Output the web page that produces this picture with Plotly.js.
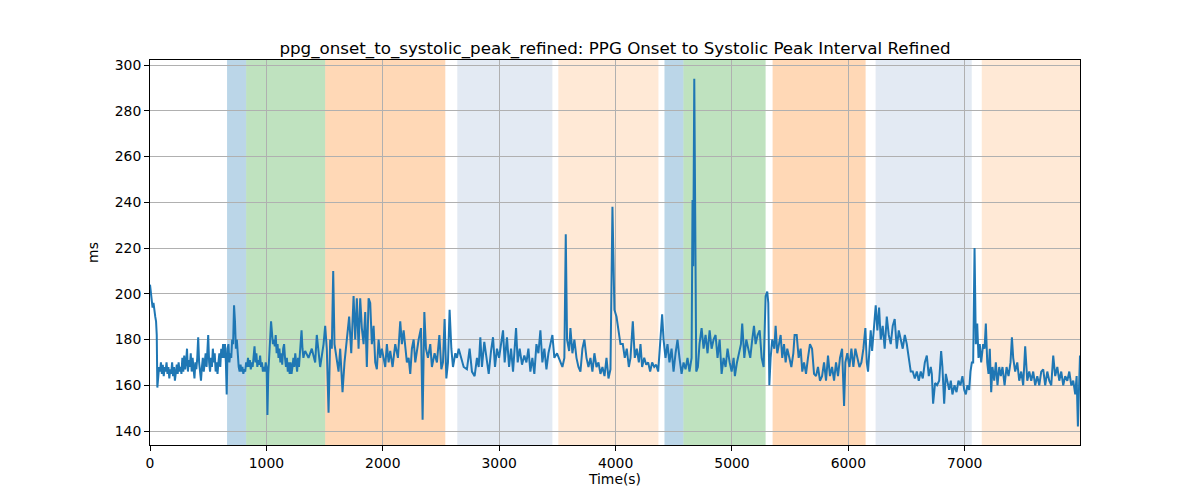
<!DOCTYPE html>
<html>
<head>
<meta charset="utf-8">
<script src="https://cdn.plot.ly/plotly-3.0.1.min.js"></script>
<style>html,body{margin:0;padding:0;background:#fff;}#chart{width:1200px;height:500px;}</style>
</head>
<body>
<div id="chart"></div>
<script>
// Time (s)
const times = [
0,8,15,22,30,38,45,52,58,63,
70,78,86,94,102,110,118,126,134,142,
150,158,166,174,182,190,198,206,214,222,
230,238,246,254,262,270,278,286,294,302,
310,318,326,334,342,350,358,366,374,382,
390,398,406,414,422,430,438,446,454,462,
470,478,486,494,500,508,516,524,532,540,
548,556,564,572,580,588,596,604,612,620,
628,636,644,652,659,666,674,682,690,698,
706,714,722,730,738,746,754,762,770,778,
786,794,802,810,818,826,834,842,850,858,
866,874,882,890,898,906,914,922,930,938,
946,954,962,970,978,986,994,1002,1009,1016,
1024,1032,1040,1048,1056,1064,1072,1080,1088,1096,
1104,1112,1120,1128,1136,1144,1152,1160,1168,1176,
1184,1192,1200,1208,1216,1224,1232,1240,1248,1256,
1264,1272,1280,1288,1296,1302,1310,1318,1326,
1333,1362,1390,1419,1433,1462,1491,1505,1519,1534,1548,1562,1574,1585,1605,1620,1634,1654,1671,1691,1711,1729,1749,1763,1777,1792,1806,1820,1835,1849,1863,1878,1892,1906,1921,1935,1949,1964,1978,1992,2021,2035,2050,2064,2084,2107,2130,2150,2164,2179,2193,2207,2222,2236,2250,2265,2279,2293,2308,2328,2342,2357,2371,2388,2408,2422,2445,2465,2486,2503,2517,2531,2546,2560,2574,2589,2603,2623,2637,2652,
2666,2695,2723,2746,2766,2789,2809,2824,2838,2852,2872,2890,2910,2930,2947,2964,2981,2999,3016,3033,3047,3067,3085,3102,3119,3133,3145,3159,3176,3196,3216,3234,3251,3268,3285,3302,3320,3337,3354,3371,3388,3406,3423,3440,3457,3474,3497,3520,3543,3560,3572,3583,3601,3612,3629,3646,3664,3681,3698,3715,3732,3750,3767,3784,3801,3818,3836,3853,3870,3887,3905,3922,3939,3956,3973,3990,4008,4025,4042,
4062,4079,4096,4114,4128,4148,4165,4182,4200,4214,4228,4246,4263,4280,4297,4314,4332,4349,4366,4383,4400,4412,4429,4446,4463,4481,4498,4515,4532,4549,4567,4584,4601,4618,4635,4653,4661,4667,4676,4684,4693,4707,4721,4739,4756,4773,4790,4808,4825,4842,4859,4876,4894,4911,4928,4945,4962,4980,4997,5014,5025,5043,5060,5077,5088,5106,5123,5140,5157,5174,5189,5203,5220,5238,5255,5272,5289,5303,5312,5321,5332,5346,5364,
5375,5389,5404,5418,5432,5447,5461,5475,5493,5510,5527,5538,5556,5573,5590,5604,5619,5636,5653,5670,5688,5705,5722,5739,5756,5774,5791,5808,5825,5842,5860,5877,5894,5911,5928,5946,5963,5974,5991,6009,6026,6043,6060,6077,6095,6112,6129,6146,6158,6169,6181,6192,6204,6221,6235,6249,6264,6278,6295,6312,6330,6347,6364,6381,6398,6416,6433,6450,6467,6485,6502,6519,6536,6553,6571,6588,6605,6622,6639,6657,6674,6691,6708,
6717,6728,6745,6762,6780,6797,6808,6823,6837,6851,6866,6880,6894,6912,6929,6946,6963,6980,6995,7009,7023,7038,7049,7061,7072,7084,7095,7107,7118,7129,7141,7158,7170,7181,7193,7204,7215,7227,7238,7253,7267,7281,7296,7310,7324,7342,7359,7376,7393,7405,7416,7433,7451,7468,7485,7502,7519,7537,7554,7571,7588,7605,7623,7640,7657,7674,7691,7709,7726,7743,7760,7777,7795,7812,7829,7846,7863,7881,7898,7915,7932,7949,7961,7972,7981,7990
];
// Interval (ms)
const intervalMs = [
204,201,197,194,196,191,190,188,182,159,
164,168,166,170,165,169,164,168,166,170,
165,168,163,167,165,170,164,168,162,166,
169,165,170,166,168,165,172,166,173,167,
170,176,166,171,168,174,166,172,168,163,
170,167,172,181,170,166,162,168,172,166,
170,174,168,176,182,170,166,172,168,176,
170,174,166,170,165,170,174,168,176,172,
178,172,178,170,156,176,178,170,174,172,
180,178,195,188,176,180,170,168,166,169,
166,168,165,167,166,170,168,172,168,171,
167,170,168,172,177,170,174,168,171,169,
173,168,170,166,168,166,170,168,147,165,
176,180,188,182,178,180,177,182,174,178,
172,176,170,174,169,176,178,172,168,172,
166,170,165,170,165,168,172,168,174,170,
166,172,168,174,178,184,176,172,174,
175,172,176,170,182,168,178,186,176,148,180,176,210,178,172,166,176,157,170,180,190,174,199,180,198,176,198,185,178,192,168,198,196,178,186,170,167,180,172,176,168,178,170,175,168,178,172,188,178,184,176,170,172,165,176,180,170,176,180,185,145,192,176,172,178,168,174,170,182,167,170,189,163,170,193,176,168,174,172,176,
173,168,167,176,166,164,172,168,181,168,179,172,165,175,181,168,176,172,178,184,170,181,168,176,166,178,185,170,176,169,173,170,176,166,172,165,178,174,184,170,176,167,174,178,182,172,174,171,168,172,226,180,175,185,174,180,172,168,166,176,180,172,168,172,166,174,168,170,165,168,164,172,163,167,238,193,190,184,178,
178,172,176,168,172,188,172,176,170,178,168,172,169,170,166,170,168,169,166,178,191,180,172,178,170,176,166,174,180,172,165,170,167,172,166,172,241,212,294,235,166,168,178,185,176,182,174,184,176,180,182,172,180,165,172,168,176,170,166,172,164,170,174,178,187,172,180,176,172,180,186,178,182,184,172,168,199,201,196,160,172,180,176,
186,174,178,182,172,178,170,176,172,168,174,182,182,172,176,166,170,165,172,178,176,165,164,168,162,164,170,162,173,164,168,162,170,164,172,176,151,170,174,168,176,168,176,172,168,170,176,185,170,166,176,184,175,186,195,184,194,180,186,176,190,182,178,186,189,176,184,180,176,182,178,172,166,166,163,166,162,166,163,170,173,164,168,
165,152,161,160,162,175,168,152,165,162,158,162,156,160,157,162,160,164,158,156,160,158,166,170,170,220,178,187,172,178,170,178,176,187,170,165,176,157,168,162,170,160,168,164,168,160,168,164,170,181,172,166,170,162,166,160,177,162,166,162,166,160,164,160,166,167,160,166,162,160,173,164,168,162,166,160,164,162,166,160,162,156,164,142,166,173
];
// Shaded condition spans (s)
const spanStart = [662, 826, 1505, 2640, 3508, 4420, 4583, 5349, 6234, 7146];
const spanEnd   = [826, 1505, 2537, 3457, 4368, 4583, 5289, 6148, 7060, 7990];
const spanColor = [
  'rgba(31,119,180,0.3)', 'rgba(44,160,44,0.3)', 'rgba(255,127,14,0.3)',
  'rgba(176,196,222,0.35)', 'rgba(255,127,14,0.17)',
  'rgba(31,119,180,0.3)', 'rgba(44,160,44,0.3)', 'rgba(255,127,14,0.3)',
  'rgba(176,196,222,0.35)', 'rgba(255,127,14,0.17)'
];

const shapes = spanStart.map((s, i) => ({
  type: 'rect', xref: 'x', yref: 'paper', x0: s, x1: spanEnd[i], y0: 0, y1: 1,
  fillcolor: spanColor[i], line: {width: 0}, layer: 'below'
}));

const font = {family: 'DejaVu Sans, sans-serif', color: '#000'};
const axisCommon = {
  showline: true, linecolor: '#000', linewidth: 1, mirror: true,
  ticks: 'outside', ticklen: 5, tickwidth: 1, tickcolor: '#000',
  showgrid: true, gridcolor: '#b0b0b0', gridwidth: 1, zeroline: false,
  tickfont: Object.assign({size: 13.9}, font)
};

const trace = {
  x: times, y: intervalMs, type: 'scatter', mode: 'lines',
  line: {color: '#1f77b4', width: 2}, hoverinfo: 'x+y'
};

const layout = Object.assign({
  width: 1200, height: 500,
  margin: {l: 150, r: 120, t: 60, b: 55},
  paper_bgcolor: '#fff', plot_bgcolor: '#fff',
  showlegend: false,
  shapes: shapes,
  title: {
    text: 'ppg_onset_to_systolic_peak_refined: PPG Onset to Systolic Peak Interval Refined',
    font: Object.assign({size: 16.7}, font),
    x: 0.5, xref: 'paper', xanchor: 'center',
    y: 1, yref: 'paper', yanchor: 'bottom', pad: {b: 6}
  },
  xaxis: Object.assign({}, axisCommon, {
    range: [0, 7990], tick0: 0, dtick: 1000,
    title: {text: 'Time(s)', font: Object.assign({size: 13.9}, font), standoff: 4}
  }),
  yaxis: Object.assign({}, axisCommon, {
    range: [133.9, 302.2], tick0: 140, dtick: 20,
    title: {text: 'ms', font: Object.assign({size: 13.9}, font), standoff: 12}
  })
});

Plotly.newPlot('chart', [trace], layout, {displayModeBar: false, staticPlot: true});
</script>
</body>
</html>
